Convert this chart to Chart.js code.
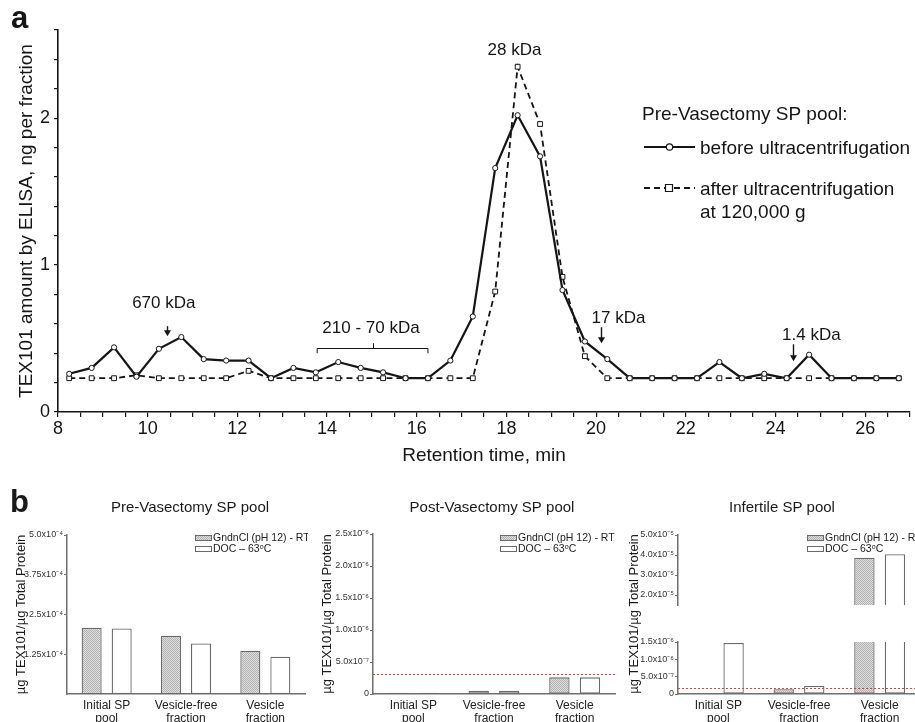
<!DOCTYPE html>
<html>
<head>
<meta charset="utf-8">
<script src="https://cdn.jsdelivr.net/npm/chart.js@4.4.0/dist/chart.umd.min.js"></script>
<style>
  html, body { margin:0; padding:0; background:#fff; width:915px; height:722px; overflow:hidden; position:relative; }
  canvas { position:absolute; }
</style>
</head>
<body>
<canvas id="cA" width="915" height="478" style="left:0;top:0"></canvas>
<canvas id="cB1" width="308" height="244" style="left:0;top:478px"></canvas>
<canvas id="cB2" width="310" height="244" style="left:308px;top:478px"></canvas>
<canvas id="cB3lo" width="302" height="244" style="left:618px;top:478px"></canvas>
<canvas id="cB3hi" width="302" height="244" style="left:618px;top:478px"></canvas>
<script>
// ---------------- DATA: panel a ----------------
const retentionTime = [8.25, 8.75, 9.25, 9.75, 10.25, 10.75, 11.25, 11.75, 12.25, 12.75,
  13.25, 13.75, 14.25, 14.75, 15.25, 15.75, 16.25, 16.75, 17.25, 17.75, 18.25, 18.75,
  19.25, 19.75, 20.25, 20.75, 21.25, 21.75, 22.25, 22.75, 23.25, 23.75, 24.25, 24.75,
  25.25, 25.75, 26.25, 26.75];
const beforeUC = [0.26, 0.30, 0.44, 0.24, 0.43, 0.51, 0.36, 0.35, 0.35, 0.23,
  0.30, 0.27, 0.34, 0.30, 0.27, 0.23, 0.23, 0.35, 0.65, 1.66, 2.02, 1.74,
  0.83, 0.48, 0.36, 0.23, 0.23, 0.23, 0.23, 0.34, 0.23, 0.26, 0.23, 0.39,
  0.23, 0.23, 0.23, 0.23];
const afterUC = [0.23, 0.23, 0.23, 0.25, 0.23, 0.23, 0.23, 0.23, 0.28, 0.23,
  0.23, 0.23, 0.23, 0.23, 0.23, 0.23, 0.23, 0.23, 0.23, 0.82, 2.35, 1.96,
  0.92, 0.38, 0.23, 0.23, 0.23, 0.23, 0.23, 0.23, 0.23, 0.23, 0.23, 0.23,
  0.23, 0.23, 0.23, 0.23];
const xLabelTicks = [8, 10, 12, 14, 16, 18, 20, 22, 24, 26];
const yLabelTicks = [0, 1, 2];
const mwLabels = [
  {text:'670 kDa', x:10.36, y:0.707},
  {text:'210 - 70 kDa', x:14.98, y:0.536},
  {text:'28 kDa', x:18.18, y:2.43},
  {text:'17 kDa', x:20.5, y:0.605},
  {text:'1.4 kDa', x:24.8, y:0.489}
];
const mwArrows = [
  {x:10.42, from:0.584, to:0.516},
  {x:20.11, from:0.577, to:0.468},
  {x:24.38, from:0.461, to:0.346}
];
const mwBracket = {x1:13.78, x2:16.25, y:0.434, yEnd:0.40, xMid:15.02, yMid:0.468};

// ---------------- DATA: panel b ----------------
const categories = [['Initial SP','pool'], ['Vesicle-free','fraction'], ['Vesicle','fraction']];
const seriesNames = ['GndnCl (pH 12) - RT', 'DOC \u2013 63\u1D52C'];
const preGndn  = [2.08e-4, 1.83e-4, 1.36e-4];
const preDoc   = [2.06e-4, 1.59e-4, 1.17e-4];
const postGndn = [2.0e-8, 5.0e-8, 2.6e-7];
const postDoc  = [2.0e-8, 5.0e-8, 2.6e-7];
const infGndn  = [3.0e-8, 1.36e-7, 3.86e-5];
const infDoc   = [1.47e-6, 2.3e-7, 4.04e-5];
const preTicks  = [1.25e-4, 2.5e-4, 3.75e-4, 5.0e-4];
const preTickLabels = ['1.25x10\u207B\u2074', '2.5x10\u207B\u2074', '3.75x10\u207B\u2074', '5.0x10\u207B\u2074'];
const postTicks = [0, 5.0e-7, 1.0e-6, 1.5e-6, 2.0e-6, 2.5e-6];
const postTickLabels = ['0', '5.0x10\u207B\u2077', '1.0x10\u207B\u2076', '1.5x10\u207B\u2076', '2.0x10\u207B\u2076', '2.5x10\u207B\u2076'];
const infLoTicks = [0, 5.0e-7, 1.0e-6, 1.5e-6];
const infLoTickLabels = ['0', '5.0x10\u207B\u2077', '1.0x10\u207B\u2076', '1.5x10\u207B\u2076'];
const infHiTicks = [2.0e-5, 3.0e-5, 4.0e-5, 5.0e-5];
const infHiTickLabels = ['2.0x10\u207B\u2075', '3.0x10\u207B\u2075', '4.0x10\u207B\u2075', '5.0x10\u207B\u2075'];
const postThreshold = 3.1e-7;
const infThreshold = 1.65e-7;

// ---------------- common ----------------
const FAM = '"Liberation Sans", Arial, Helvetica, sans-serif';
Chart.defaults.font.family = FAM;
Chart.defaults.color = '#1a1a1a';
const INK = '#151515';

// ---------------- Panel a ----------------
const annoA = {
  id: 'annoA',
  afterDraw(chart) {
    const {ctx, scales:{x, y}} = chart;
    ctx.save();
    ctx.fillStyle = INK; ctx.strokeStyle = INK;
    ctx.font = 'bold 31px ' + FAM; ctx.textAlign = 'left'; ctx.textBaseline = 'alphabetic';
    ctx.fillText('a', 11, 28);
    ctx.font = '17px ' + FAM; ctx.textAlign = 'center';
    mwLabels.forEach(a => ctx.fillText(a.text, x.getPixelForValue(a.x), y.getPixelForValue(a.y)));
    ctx.lineWidth = 1.4;
    mwArrows.forEach(a => {
      const px = Math.round(x.getPixelForValue(a.x)) + 0.5;
      const y1 = y.getPixelForValue(a.from), y2 = y.getPixelForValue(a.to);
      ctx.beginPath(); ctx.moveTo(px, y1); ctx.lineTo(px, y2 - 5); ctx.stroke();
      ctx.beginPath(); ctx.moveTo(px - 3.5, y2 - 6); ctx.lineTo(px + 3.5, y2 - 6); ctx.lineTo(px, y2); ctx.closePath(); ctx.fill();
    });
    ctx.lineWidth = 1;
    const bx1 = x.getPixelForValue(mwBracket.x1), bx2 = x.getPixelForValue(mwBracket.x2);
    const by = Math.round(y.getPixelForValue(mwBracket.y)) + 0.5;
    const bye = y.getPixelForValue(mwBracket.yEnd);
    const bxm = Math.round(x.getPixelForValue(mwBracket.xMid)) + 0.5;
    ctx.beginPath();
    ctx.moveTo(bx1, bye); ctx.lineTo(bx1, by); ctx.lineTo(bx2, by); ctx.lineTo(bx2, bye);
    ctx.moveTo(bxm, by); ctx.lineTo(bxm, y.getPixelForValue(mwBracket.yMid));
    ctx.stroke();
    const ds = chart.data.datasets;
    ctx.font = '19px ' + FAM; ctx.textAlign = 'left';
    ctx.fillText('Pre-Vasectomy SP pool:', 642, 120);
    const rows = [{ly:147, ty:154}, {ly:188, ty:195}];
    ds.forEach((d, i) => {
      const r = rows[i];
      ctx.save();
      ctx.strokeStyle = d.borderColor; ctx.lineWidth = d.borderWidth;
      ctx.setLineDash(d.borderDash || []);
      ctx.beginPath(); ctx.moveTo(644, r.ly); ctx.lineTo(695, r.ly); ctx.stroke();
      ctx.setLineDash([]);
      ctx.lineWidth = 1.2; ctx.fillStyle = '#fff';
      ctx.beginPath();
      if (d.pointStyle === 'rect') ctx.rect(665.5, r.ly - 3.5, 7, 7);
      else ctx.arc(669.5, r.ly, 3.2, 0, Math.PI * 2);
      ctx.fill(); ctx.stroke();
      ctx.restore();
      const lines = Array.isArray(d.legendLines) ? d.legendLines : [d.label];
      lines.forEach((t, k) => ctx.fillText(t, 700, r.ty + k * 23));
    });
    ctx.restore();
  }
};

new Chart(document.getElementById('cA'), {
  type: 'line',
  data: {
    datasets: [
      {
        label: 'before ultracentrifugation',
        legendLines: ['before ultracentrifugation'],
        data: retentionTime.map((t, i) => ({x: t, y: beforeUC[i]})),
        borderColor: INK, borderWidth: 2.2, tension: 0,
        pointStyle: 'circle', pointRadius: 2.6, pointBorderWidth: 1,
        pointBackgroundColor: '#fff', pointBorderColor: INK
      },
      {
        label: 'after ultracentrifugation at 120,000 g',
        legendLines: ['after ultracentrifugation', 'at 120,000 g'],
        data: retentionTime.map((t, i) => ({x: t, y: afterUC[i]})),
        borderColor: INK, borderWidth: 1.8, borderDash: [6, 4], tension: 0,
        pointStyle: 'rect', pointRadius: 3.4, pointBorderWidth: 1,
        pointBackgroundColor: '#fff', pointBorderColor: INK
      }
    ]
  },
  options: {
    responsive: false, animation: false, devicePixelRatio: 1,
    layout: {padding: {top: 30, right: 2, left: 0, bottom: 0}},
    plugins: {legend: {display: false}, tooltip: {enabled: false}},
    scales: {
      x: {
        type: 'linear', min: 8, max: 27,
        afterFit: s => { s.height = 66; },
        ticks: {
          stepSize: 0.5, autoSkip: false, maxRotation: 0, padding: 1,
          font: {size: 18}, color: INK,
          callback: v => xLabelTicks.some(t => Math.abs(t - v) < 1e-6) ? String(Math.round(v)) : ''
        },
        grid: {drawOnChartArea: false, tickLength: 5, color: INK, lineWidth: 1.2},
        border: {color: INK, width: 1.6},
        title: {display: true, text: 'Retention time, min', font: {size: 19}, color: INK, padding: {top: 0, bottom: 11}}
      },
      y: {
        min: 0, max: 2.6,
        afterFit: s => { s.width = 58; },
        ticks: {
          stepSize: 0.2, autoSkip: false, padding: 4,
          font: {size: 18}, color: INK,
          callback: v => yLabelTicks.some(t => Math.abs(t - v) < 1e-6) ? String(Math.round(v)) : ''
        },
        grid: {drawOnChartArea: false, tickLength: 4, color: INK, lineWidth: 1.2},
        border: {color: INK, width: 1.6},
        title: {display: true, text: 'TEX101 amount by ELISA, ng per fraction', font: {size: 19}, color: INK, padding: {top: 15, bottom: 0}}
      }
    }
  },
  plugins: [annoA]
});

// ---------------- Panel b ----------------
const pc = document.createElement('canvas'); pc.width = 2; pc.height = 2;
const pctx = pc.getContext('2d');
pctx.fillStyle = '#dedede'; pctx.fillRect(0, 0, 2, 2);
pctx.fillStyle = '#b2b2b2'; pctx.fillRect(0, 0, 1, 1); pctx.fillRect(1, 1, 1, 1);
const stipple = pctx.createPattern(pc, 'repeat');
const BAR_EDGE = '#6a6a6a';
const AXIS_B = '#6f6f6f';

const extrasB = {
  id: 'extrasB',
  afterDatasetsDraw(chart, args, opts) {
    const {ctx, chartArea} = chart;
    ctx.save();
    if (opts.threshold != null) {
      const yy = Math.round(chart.scales.y.getPixelForValue(opts.threshold)) + 0.5;
      ctx.strokeStyle = '#ec3b3b'; ctx.lineWidth = 1; ctx.setLineDash([2, 2]);
      ctx.beginPath(); ctx.moveTo(chartArea.left, yy); ctx.lineTo(chartArea.right, yy); ctx.stroke();
      ctx.setLineDash([]);
    }
    ctx.restore();
  },
  afterDraw(chart, args, opts) {
    const {ctx} = chart;
    ctx.save();
    ctx.fillStyle = '#1a1a1a'; ctx.textBaseline = 'alphabetic';
    if (opts.letter) {
      ctx.font = 'bold 31px ' + FAM; ctx.textAlign = 'left';
      ctx.fillText(opts.letter, 10, 34);
    }
    if (opts.title) {
      ctx.font = '15px ' + FAM; ctx.textAlign = 'center';
      ctx.fillText(opts.title, opts.titleX, 34);
    }
    if (opts.yTitle) {
      ctx.save();
      ctx.translate(opts.yTitle.x, opts.yTitle.y); ctx.rotate(-Math.PI / 2);
      ctx.font = '13px ' + FAM; ctx.textAlign = 'center'; ctx.textBaseline = 'middle';
      ctx.fillText(opts.yTitle.text, 0, 0);
      ctx.restore();
    }
    if (opts.legendX != null) {
      const ds = chart.data.datasets;
      ctx.font = '10.5px ' + FAM; ctx.textAlign = 'left'; ctx.textBaseline = 'middle';
      ds.forEach((d, i) => {
        const by = 57 + i * 11;
        ctx.fillStyle = d.backgroundColor; ctx.fillRect(opts.legendX, by, 16, 5);
        ctx.strokeStyle = BAR_EDGE; ctx.lineWidth = 1;
        ctx.strokeRect(opts.legendX + 0.5, by + 0.5, 16, 5);
        ctx.fillStyle = '#222';
        ctx.fillText(d.label, opts.legendX + 18, by + 3);
      });
    }
    ctx.restore();
  }
};

function barChart(id, gndn, doc, cfg) {
  return new Chart(document.getElementById(id), {
    type: 'bar',
    data: {
      labels: categories,
      datasets: [
        {label: seriesNames[0], data: gndn, backgroundColor: stipple, borderColor: BAR_EDGE, borderWidth: 1.3, borderSkipped: false,
         categoryPercentage: 0.757, barPercentage: 0.667},
        {label: seriesNames[1], data: doc, backgroundColor: '#ffffff', borderColor: BAR_EDGE, borderWidth: 1.3, borderSkipped: false,
         categoryPercentage: 0.757, barPercentage: 0.667}
      ]
    },
    options: {
      responsive: false, animation: false, devicePixelRatio: 1,
      layout: {padding: cfg.padding},
      plugins: {legend: {display: false}, tooltip: {enabled: false}, extrasB: cfg.extras},
      scales: {
        x: {
          display: cfg.showX,
          afterFit: s => { s.height = 28; },
          ticks: {font: {size: 12, lineHeight: 1.1}, color: '#222', padding: 5, maxRotation: 0, autoSkip: false},
          grid: {display: true, drawOnChartArea: false, drawTicks: false},
          border: {color: AXIS_B, width: 1.5}
        },
        y: {
          min: cfg.min, max: cfg.max,
          afterFit: s => { s.width = cfg.yWidth; },
          afterBuildTicks: s => { s.ticks = cfg.ticks.map(v => ({value: v})); },
          ticks: {font: {size: 9}, color: '#333', padding: 1, autoSkip: false,
                  callback: (v, i) => cfg.tickLabels[i]},
          grid: {drawOnChartArea: false, tickLength: 3, color: AXIS_B},
          border: {color: AXIS_B, width: 1.5},
          title: cfg.yTitle ? {display: true, text: 'µg TEX101/µg Total Protein', font: {size: 13}, color: '#1a1a1a', padding: {top: cfg.yTitlePad, bottom: 0}} : {display: false}
        }
      }
    },
    plugins: [extrasB]
  });
}

barChart('cB1', preGndn, preDoc, {
  padding: {top: 57, right: 3, left: 0, bottom: 0}, showX: true, min: 0, max: 5.0e-4, yWidth: 67,
  ticks: preTicks, tickLabels: preTickLabels, yTitle: true, yTitlePad: 14,
  extras: {letter: 'b', title: 'Pre-Vasectomy SP pool', titleX: 190, legendX: 195}
});
barChart('cB2', postGndn, postDoc, {
  padding: {top: 56, right: 3, left: 0, bottom: 0}, showX: true, min: 0, max: 2.5e-6, yWidth: 65,
  ticks: postTicks, tickLabels: postTickLabels, yTitle: true, yTitlePad: 12,
  extras: {title: 'Post-Vasectomy SP pool', titleX: 184, legendX: 192, threshold: postThreshold}
});
barChart('cB3lo', infGndn, infDoc, {
  padding: {top: 164, right: 0, left: 0, bottom: 0}, showX: true, min: 0, max: 1.5e-6, yWidth: 60,
  ticks: infLoTicks, tickLabels: infLoTickLabels, yTitle: false,
  extras: {title: 'Infertile SP pool', titleX: 164, legendX: 189, threshold: infThreshold,
           yTitle: {text: 'µg TEX101/µg Total Protein', x: 16, y: 136}}
});
barChart('cB3hi', infGndn, infDoc, {
  padding: {top: 57, right: 0, left: 0, bottom: 89}, showX: false, min: 1.5e-5, max: 5.0e-5, yWidth: 60,
  ticks: infHiTicks, tickLabels: infHiTickLabels, yTitle: false,
  extras: {}
});
</script>
</body>
</html>
